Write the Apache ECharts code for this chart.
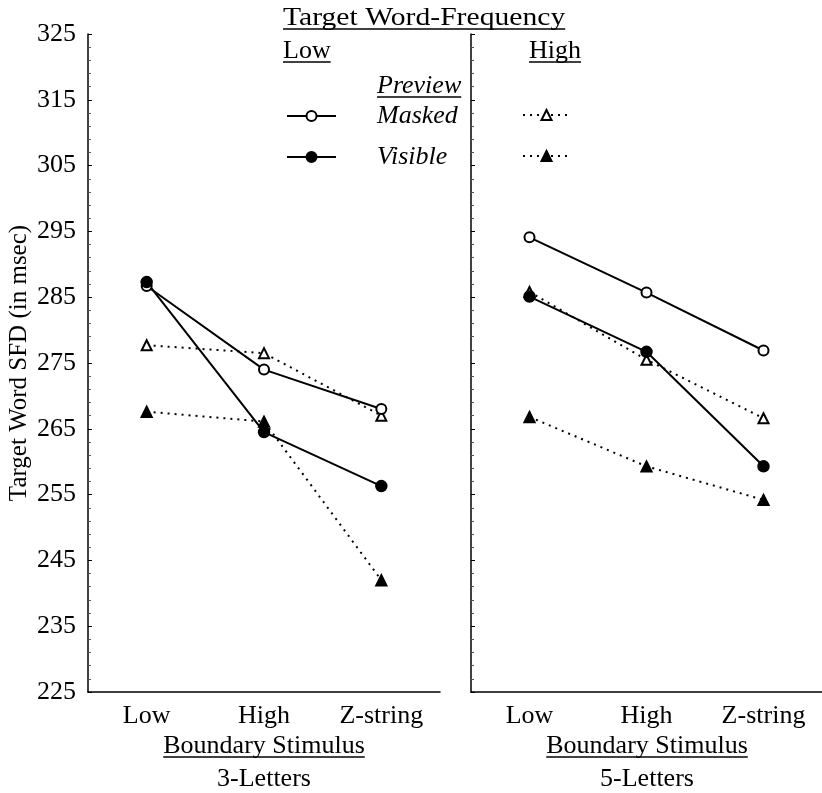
<!DOCTYPE html>
<html lang="en">
<head>
<meta charset="UTF-8">
<title>Target Word SFD</title>
<style>
    * { margin: 0; padding: 0; box-sizing: border-box; }
    html, body { height: 100%; background: #fff; }
    #box { width: 822px; height: 793px; }
</style>
<script src="https://cdn.jsdelivr.net/npm/echarts@6/dist/echarts.min.js"></script>
</head>
<body>
<div id="box"></div>
<script>
    // categories + values
    var categories = ['Low', 'High', 'Z-string'];
    var yMin = 225, yMax = 325, yStep = 10;

    // 3-letter boundary (left panel)
    var low3Masked = [286.7, 274.0, 268.0];
    var low3Visible = [287.3, 264.5, 256.3];
    var high3Masked = [277.7, 276.5, 267.0];
    var high3Visible = [267.6, 266.1, 242.0];

    // 5-letter boundary (right panel)
    var low5Masked = [294.1, 285.7, 276.9];
    var low5Visible = [285.1, 276.7, 259.3];
    var high5Masked = [285.8, 275.5, 266.6];
    var high5Visible = [266.8, 259.3, 254.2];

    var FONT = 'Liberation Serif';
    var box = document.getElementById('box');
    var myChart = echarts.init(box);

    // grids
    var gTop = 34, gH = 658, gW = 352;
    var gLeft = [88, 471];

    function lineSeries(name, data, idx, symbol, dotted) {
        return {
            name: name,
            type: 'line',
            xAxisIndex: idx,
            yAxisIndex: idx,
            data: data,
            symbol: symbol,
            symbolSize: symbol.indexOf('empty') === 0 ? 10 : 11,
            itemStyle: { color: '#000', borderColor: '#000', borderWidth: 1.5 },
            lineStyle: dotted ? { color: '#000', width: 2, type: [2, 5] } : { color: '#000', width: 2 },
            z: dotted ? 2 : 3
        };
    }

    // measure text so underlines match the rendered width
    var ctx = document.createElement('canvas').getContext('2d');
    function label(text, x, y, size, align, italic, sx) {
        var font = (italic ? 'italic ' : '') + size + 'px "' + FONT + '"';
        return {
            type: 'text', x: x, y: y, scaleX: sx || 1, silent: true,
            style: { text: text, font: font, fill: '#000', textAlign: align, textVerticalAlign: 'middle' }
        };
    }
    function underlined(text, x, y, size, align, italic, sx) {
        var font = (italic ? 'italic ' : '') + size + 'px "' + FONT + '"';
        ctx.font = font;
        var w = ctx.measureText(text).width * (sx || 1);
        var x0 = align === 'center' ? x - w / 2 : x;
        return [
            label(text, x, y, size, align, italic, sx),
            {
                type: 'line', silent: true,
                shape: { x1: x0, y1: y + 11, x2: x0 + w, y2: y + 11 },
                style: { stroke: '#000', lineWidth: 1.3 }
            }
        ];
    }

    var graphics = [].concat(
        underlined('Target Word-Frequency', 283, 18, 26, 'left', false, 1.14),
        underlined('Low', 283, 51, 26, 'left'),
        underlined('High', 529, 51, 26, 'left'),
        underlined('Preview', 377, 86, 26, 'left', true),
        underlined('Boundary Stimulus', gLeft[0] + gW / 2, 746, 26, 'center'),
        [label('3-Letters', gLeft[0] + gW / 2, 779, 26, 'center')],
        underlined('Boundary Stimulus', gLeft[1] + gW / 2, 746, 26, 'center'),
        [label('5-Letters', gLeft[1] + gW / 2, 779, 26, 'center')]
    );

    function xAxis(idx) {
        return {
            type: 'category', gridIndex: idx, data: categories, boundaryGap: true,
            axisLine: { lineStyle: { color: '#000', width: 1.5 } },
            axisTick: { alignWithLabel: true, inside: true, length: 3, lineStyle: { color: '#000' } },
            axisLabel: { color: '#000', fontFamily: FONT, fontSize: 26, margin: 11 },
            splitLine: { show: false }
        };
    }
    function yAxis(idx) {
        return {
            type: 'value', gridIndex: idx, min: yMin, max: yMax, interval: yStep,
            name: idx === 0 ? 'Target Word SFD (in msec)' : '',
            nameLocation: 'middle', nameGap: 56,
            nameTextStyle: { color: '#000', fontFamily: FONT, fontSize: 25 },
            axisLine: { show: true, lineStyle: { color: '#000', width: 1.5 } },
            axisTick: { show: true, inside: true, length: 4, lineStyle: { color: '#000' } },
            minorTick: { show: true, splitNumber: 5, length: 3, lineStyle: { color: '#555' } },
            axisLabel: { show: idx === 0, color: '#000', fontFamily: FONT, fontSize: 26, margin: 12 },
            splitLine: { show: false }
        };
    }

    var option = {
        animation: false,
        backgroundColor: '#fff',
        grid: [
            { left: gLeft[0], top: gTop, width: gW, height: gH },
            { left: gLeft[1], top: gTop, width: gW, height: gH }
        ],
        xAxis: [xAxis(0), xAxis(1)],
        yAxis: [yAxis(0), yAxis(1)],
        legend: [
            {
                data: ['Masked', 'Visible'],
                orient: 'vertical', left: 286, top: 103, padding: 0,
                itemWidth: 49, itemHeight: 12.5, itemGap: 15,
                textStyle: { color: '#000', fontFamily: FONT, fontSize: 26, fontStyle: 'italic', padding: [0, 0, 0, 36] },
                selectedMode: false
            },
            {
                data: ['High Masked', 'High Visible'],
                orient: 'vertical', left: 522, top: 102, padding: 0,
                itemWidth: 47, itemHeight: 12.5, itemGap: 15,
                formatter: function () { return ' '; },
                textStyle: { fontFamily: FONT, fontSize: 26 },
                selectedMode: false
            }
        ],
        graphic: graphics,
        series: [
            lineSeries('Masked', low3Masked, 0, 'emptyCircle', false),
            lineSeries('Visible', low3Visible, 0, 'circle', false),
            lineSeries('High Masked', high3Masked, 0, 'emptyTriangle', true),
            lineSeries('High Visible', high3Visible, 0, 'triangle', true),
            lineSeries('Masked', low5Masked, 1, 'emptyCircle', false),
            lineSeries('Visible', low5Visible, 1, 'circle', false),
            lineSeries('High Masked', high5Masked, 1, 'emptyTriangle', true),
            lineSeries('High Visible', high5Visible, 1, 'triangle', true)
        ]
    };
    myChart.setOption(option);

    window.onresize = function () {
        myChart.resize();
    };
</script>
</body>
</html>
